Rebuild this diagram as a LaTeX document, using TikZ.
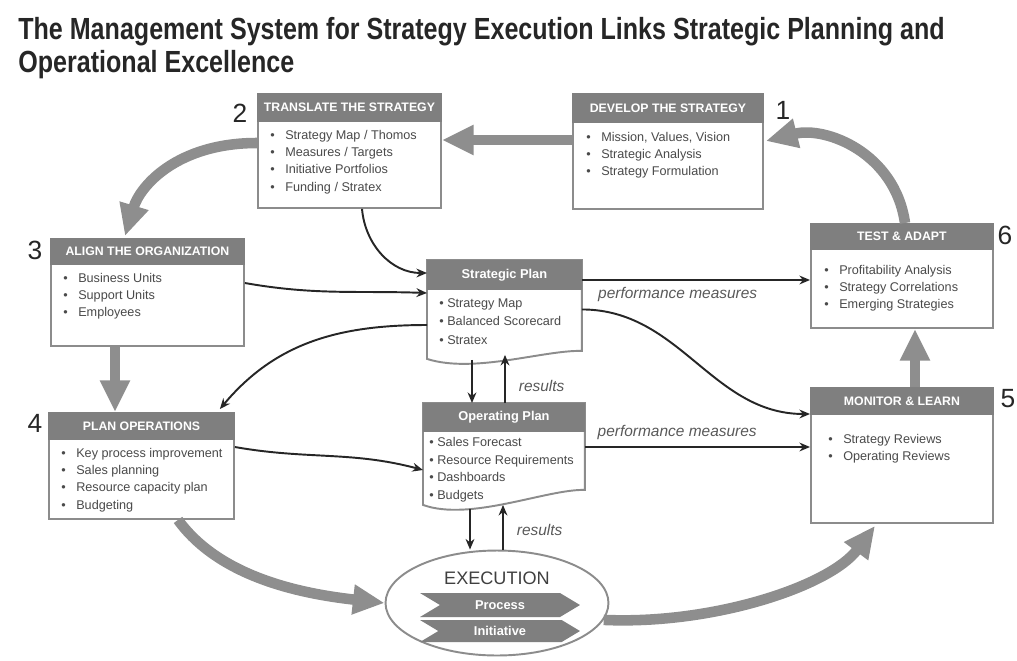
\documentclass[tikz,border=0pt]{standalone}
\usepackage{fontspec}
\setmainfont{Liberation Sans}
\newfontfamily\titlefont[FakeStretch=0.82]{Liberation Sans}
\usetikzlibrary{arrows.meta,positioning,calc,shapes.geometric,shapes.symbols}

\definecolor{hdrgray}{HTML}{7F7F7F}
\definecolor{framegray}{HTML}{8C8C8C}
\definecolor{arrowgray}{HTML}{8E8E8E}
\definecolor{textgray}{HTML}{4A4A4A}

\newcommand{\itm}{\makebox[8.5pt][l]{\textbullet}}

\tikzset{
  frame/.style={draw=framegray, line width=1.1pt, fill=white, anchor=north west, inner sep=0pt},
  docframe/.style={frame, draw=none, fill=none},
  hdr/.style={draw=hdrgray, line width=1.1pt, fill=hdrgray, text=white, anchor=north west, inner sep=0pt,
    align=center, font=\bfseries\fontsize{7}{8}\selectfont},
  items/.style={anchor=north west, inner sep=0pt, align=left, text=textgray, font=\fontsize{7.2}{9.8}\selectfont},
  bigarrow/.style={draw=arrowgray, line width=6pt, -{Triangle[length=18pt,width=16pt]}},
  link/.style={draw=black!85, line width=1.1pt, -{Stealth[length=6pt,width=5pt]}},
  num/.style={font=\fontsize{15}{15}\selectfont, text=black!85},
  note/.style={font=\itshape\fontsize{8.8}{10}\selectfont, text=black!65},
  chev/.style={signal, signal from=west, signal to=east, signal pointer angle=62, fill=hdrgray, text=white,
    font=\bfseries\fontsize{7.3}{8}\selectfont, minimum width=3.2cm, inner sep=0pt},
}

\begin{document}
\begin{tikzpicture}[x=0.02cm,y=-0.02cm]
\useasboundingbox (0,0) rectangle (1017,660);

\node[anchor=north west, align=left, inner sep=0pt, text=black!85,
  font=\titlefont\bfseries\fontsize{17.4}{18.6}\selectfont] (title) at (18,17)
  {The Management System for Strategy Execution Links Strategic Planning and\\Operational Excellence};

% stage boxes
\node[frame, minimum width=3.8cm, minimum height=2.3cm] (dev) at (572,93) {};
\node[hdr, minimum width=3.8cm, minimum height=0.56cm] (dev-h) at (dev.north west) {DEVELOP THE STRATEGY};
\node[items] (dev-t) at ($(dev-h.south west)+(14,9)$) {\itm Mission, Values, Vision\\\itm Strategic Analysis\\\itm Strategy Formulation};

\node[frame, minimum width=3.66cm, minimum height=2.28cm] (trn) at (257,93) {};
\node[hdr, minimum width=3.66cm, minimum height=0.54cm] (trn-h) at (trn.north west) {TRANSLATE THE STRATEGY};
\node[items] (trn-t) at ($(trn-h.south west)+(13,8)$) {\itm Strategy Map / Thomos\\\itm Measures / Targets\\\itm Initiative Portfolios\\\itm Funding / Stratex};

\node[frame, minimum width=3.86cm, minimum height=2.14cm] (aln) at (50,238) {};
\node[hdr, minimum width=3.86cm, minimum height=0.5cm] (aln-h) at (aln.north west) {ALIGN THE ORGANIZATION};
\node[items] (aln-t) at ($(aln-h.south west)+(13,8)$) {\itm Business Units\\\itm Support Units\\\itm Employees};

\node[frame, minimum width=3.7cm, minimum height=2.12cm] (pln) at (48,412) {};
\node[hdr, minimum width=3.7cm, minimum height=0.52cm] (pln-h) at (pln.north west) {PLAN OPERATIONS};
\node[items] (pln-t) at ($(pln-h.south west)+(13,8)$) {\itm Key process improvement\\\itm Sales planning\\\itm Resource capacity plan\\\itm Budgeting};

\node[frame, minimum width=3.64cm, minimum height=2.7cm] (mon) at (810,387) {};
\node[hdr, minimum width=3.64cm, minimum height=0.52cm] (mon-h) at (mon.north west) {MONITOR \& LEARN};
\node[items] (mon-t) at ($(mon-h.south west)+(18,19)$) {\itm Strategy Reviews\\\itm Operating Reviews};

\node[frame, minimum width=3.64cm, minimum height=2.08cm] (tst) at (810,223) {};
\node[hdr, minimum width=3.64cm, minimum height=0.5cm] (tst-h) at (tst.north west) {TEST \& ADAPT};
\node[items] (tst-t) at ($(tst-h.south west)+(14,15)$) {\itm Profitability Analysis\\\itm Strategy Correlations\\\itm Emerging Strategies};

% plans
\node[docframe, minimum width=3.06cm, minimum height=1.94cm] (sp) at (427,260) {};
\draw[draw=framegray, line width=1.1pt, fill=white] (sp.south west) -- (sp.north west) -- (sp.north east)
  -- ($(sp.south east)+(0,-8)$) .. controls +(-38,-1) and +(47,15) .. (sp.south west) -- cycle;
\node[hdr, minimum width=3.06cm, minimum height=0.56cm, font=\bfseries\fontsize{7.3}{8}\selectfont] (sp-h) at (sp.north west) {Strategic Plan};
\node[items, font=\fontsize{7.2}{10.5}\selectfont] (sp-t) at ($(sp-h.south west)+(12,8)$) {\textbullet{} Strategy Map\\\textbullet{} Balanced Scorecard\\\textbullet{} Stratex};

\node[docframe, minimum width=3.2cm, minimum height=2cm] (op) at (423,403) {};
\draw[draw=framegray, line width=1.1pt, fill=white] (op.south west) -- (op.north west) -- (op.north east)
  -- ($(op.south east)+(0,-15)$) .. controls +(-38,-1) and +(47,17) .. (op.south west) -- cycle;
\node[hdr, minimum width=3.2cm, minimum height=0.54cm, font=\bfseries\fontsize{7.3}{8}\selectfont] (op-h) at (op.north west) {Operating Plan};
\node[items, font=\fontsize{7.2}{10}\selectfont] (op-t) at ($(op-h.south west)+(6,5)$) {\textbullet{} Sales Forecast\\\textbullet{} Resource Requirements\\\textbullet{} Dashboards\\\textbullet{} Budgets};

% execution
\node[ellipse, draw=framegray, line width=1.1pt, fill=white, minimum width=4.46cm, minimum height=2.1cm] (ex) at (497,603) {};
\node[font=\fontsize{10.3}{12}\selectfont, text=black!75] (ex-t) at (497,578) {EXECUTION};
\node[chev, minimum height=0.48cm] (prc) at (500,605) {Process};
\node[chev, minimum height=0.44cm] (ini) at (500,631) {Initiative};

% step numbers
\node[num] (n1) at (783,110) {1};
\node[num] (n2) at (240,113) {2};
\node[num] (n3) at (35,250) {3};
\node[num] (n4) at (35,423) {4};
\node[num] (n5) at (1008,399) {5};
\node[num] (n6) at (1005,235) {6};

% the cycle
\coordinate (a1) at ($(dev.north west)+(0,47)$);
\draw[bigarrow] (a1) -- (a1 -| trn.east);
\draw[bigarrow] ($(tst.north west)+(95,0)$) .. controls +(-10,-70) and +(60,-15) .. ($(dev.north east)+(2,48)$);
\draw[bigarrow] ($(trn.north west)+(0,50)$) .. controls +(-80,0) and +(15,-50) .. ($(aln.north west)+(75,-2)$);
\coordinate (a2) at ($(aln.south west)+(65,0)$);
\draw[bigarrow] (a2) -- (a2 |- pln.north);
\draw[bigarrow] ($(pln.south west)+(130,0)$) .. controls +(40,55) and +(-90,-10) .. (ex.west);
\draw[bigarrow] (ex.-9) .. controls +(110,5) and +(-45,60) .. ($(mon.south west)+(65,2)$);
\coordinate (a3) at ($(mon.north west)+(105,0)$);
\draw[bigarrow] (a3) -- (a3 |- tst.south);

% links
\draw[link] ($(trn.south west)+(105,0)$) to[out=-85,in=180] ($(sp.north west)+(0,13)$);
\draw[link] ($(aln.north east)+(0,45)$) to[out=-10,in=178] ($(sp.north west)+(0,33)$);
\draw[link] ($(sp.north west)+(0,65)$) to[out=180,in=50] ($(pln.north east)+(-15,-3)$);
\coordinate (b1) at ($(sp.north east)+(0,20)$);
\draw[link] (b1) -- (b1 -| tst.west) node[note, below, pos=0.42] {performance measures};
\draw[link] (sp.east) to[out=0,in=180] ($(mon.north west)+(0,27)$);
\coordinate (b2) at ($(op.north east)+(0,44)$);
\draw[link] (b2) -- (b2 -| mon.west) node[note, above, pos=0.41] {performance measures};
\draw[link] ($(pln.north east)+(0,35)$) to[out=-10,in=165] ($(op.north west)+(0,67)$);

\coordinate (c1) at ($(sp.south west)+(45,1)$);
\draw[link] (c1) -- (c1 |- op.north);
\coordinate (c2) at ($(op.north west)+(82,0)$);
\draw[link] (c2) -- ($(sp.south west)+(78,-4)$) node[note, right=4pt, pos=0.35] {results};
\coordinate (c3) at ($(op.south west)+(47,4)$);
\draw[link] (c3) -- (c3 |- ex.north);
\coordinate (c4) at ($(ex.north)+(6,0)$);
\draw[link] (c4) -- ($(op.south west)+(80,0)$) node[note, right=4pt, pos=0.44] {results};
\end{tikzpicture}
\end{document}
